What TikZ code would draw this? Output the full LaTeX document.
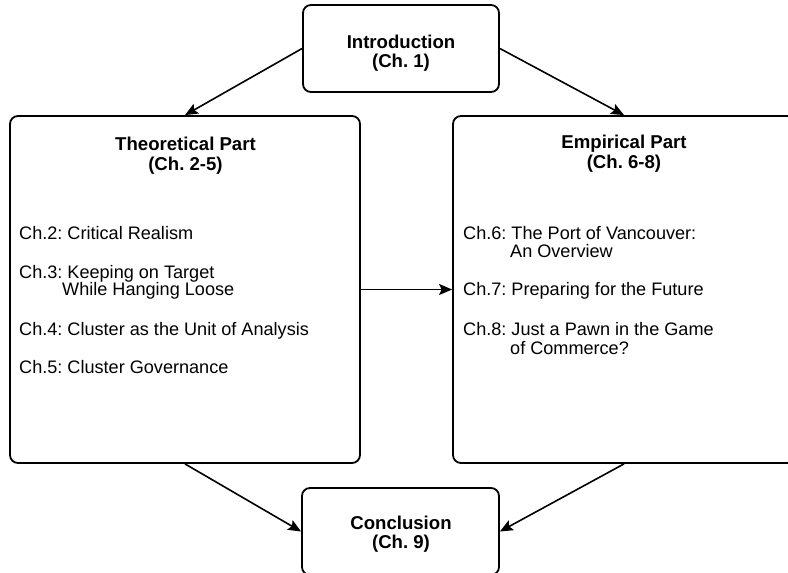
\documentclass[tikz,border=0pt]{standalone}
\usepackage{fontspec}
\setmainfont{Liberation Sans}
\usetikzlibrary{arrows.meta}
\frenchspacing
\begin{document}
\begin{tikzpicture}[x=1pt,y=-1pt,
  box/.style={draw, line width=1.8pt, rounded corners=8pt, inner sep=0pt, fill=white},
  head/.style={inner sep=0pt, anchor=base, font=\fontsize{18.6}{20}\selectfont\bfseries},
  item/.style={inner sep=0pt, anchor=base west, font=\fontsize{18.1}{20}\selectfont},
  link/.style={line width=1.6pt, -{Stealth[length=13pt,width=11pt,inset=2.5pt]}}
]
% page frame
\useasboundingbox (0,0) rectangle (788,573);
\fill[white] (0,0) rectangle (788,573);
\clip (0,0) rectangle (788,573);

% boxes
\node[box, minimum width=196pt, minimum height=87pt]  (intro) at (401,48.5) {};
\node[box, minimum width=350pt, minimum height=347pt] (theo)  at (185,289.5) {};
\node[box, minimum width=342pt, minimum height=347pt] (emp)   at (624,289.5) {};
\node[box, minimum width=197pt, minimum height=87pt]  (concl) at (400.5,531.5) {};

% headings
\node[head] (introA) at (401,48) {Introduction};
\node[head] (introB) at (401,67) {(Ch. 1)};
\node[head] (theoA) at (185.5,150) {Theoretical Part};
\node[head] (theoB) at (185.5,170) {(Ch. 2-5)};
\node[head] (empA) at (624,148.5) {Empirical Part};
\node[head] (empB) at (624,168) {(Ch. 6-8)};
\node[head] (conclA) at (401,529.5) {Conclusion};
\node[head] (conclB) at (401,548) {(Ch. 9)};

% theoretical chapters
\node[item] (t2)  at (19,239)   {Ch.2: Critical Realism};
\node[item] (t3)  at (19,278)   {Ch.3: Keeping on Target};
\node[item] (t3b) at (62,295.5) {While Hanging Loose};
\node[item] (t4)  at (19,335)   {Ch.4: Cluster as the Unit of Analysis};
\node[item] (t5)  at (19,373)   {Ch.5: Cluster Governance};

% empirical chapters
\node[item] (e6)  at (463,239.5) {Ch.6: The Port of Vancouver:};
\node[item] (e6b) at (510,257)   {An Overview};
\node[item] (e7)  at (463,295.5) {Ch.7: Preparing for the Future};
\node[item] (e8)  at (463,335)   {Ch.8: Just a Pawn in the Game};
\node[item] (e8b) at (510,354)   {of Commerce?};

% connectors
\draw[link] (intro.west) -- (theo.north);
\draw[link] (intro.east) -- (emp.north);
\draw[link] (theo.east) -- (emp.west);
\draw[link] (theo.south) -- (concl.west);
\draw[link] (emp.south) -- (concl.east);
\end{tikzpicture}
\end{document}
